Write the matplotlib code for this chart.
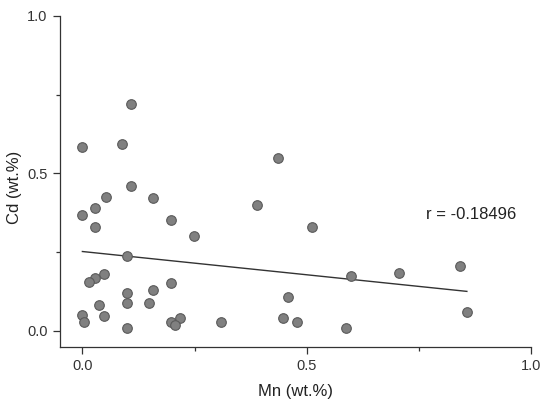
from __future__ import annotations

import matplotlib

matplotlib.use("Agg")
import matplotlib.pyplot as plt
import numpy as np
from matplotlib.ticker import MultipleLocator

plt.rcParams["font.family"] = ["Liberation Sans", "DejaVu Sans"]

# Mn / Cd contents (wt.%)
mn = [
    0.000, 0.089, 0.109, 0.109, 0.053, 0.158, 0.028, 0.000, 0.198, 0.028,
    0.248, 0.099, 0.048, 0.028, 0.014, 0.198, 0.158, 0.099, 0.099, 0.148,
    0.038, 0.000, 0.048, 0.003, 0.198, 0.218, 0.207, 0.099, 0.437, 0.389,
    0.512, 0.458, 0.308, 0.448, 0.478, 0.599, 0.706, 0.841, 0.857, 0.588,
]
cd = [
    0.583, 0.592, 0.720, 0.460, 0.426, 0.421, 0.391, 0.368, 0.352, 0.331,
    0.301, 0.239, 0.181, 0.169, 0.156, 0.151, 0.130, 0.120, 0.090, 0.090,
    0.082, 0.051, 0.049, 0.030, 0.030, 0.040, 0.019, 0.010, 0.550, 0.400,
    0.331, 0.109, 0.030, 0.040, 0.030, 0.174, 0.185, 0.206, 0.059, 0.010,
]
r_label = "r = -0.18496"


def main() -> None:
    x = np.array(mn)
    y = np.array(cd)
    slope, intercept = np.polyfit(x, y, 1)

    fig = plt.figure(figsize=(5.5, 4.07), dpi=100)
    ax = fig.add_axes((0.109, 0.148, 0.8565, 0.8134))

    ax.scatter(x, y, s=48, color="#808080", edgecolors="#5a5a5a", linewidths=0.8, zorder=3)
    fx = np.array([x.min(), x.max()])
    ax.plot(fx, intercept + slope * fx, color="#333333", linewidth=1.0, zorder=2)

    ax.text(0.766, 0.368, r_label, fontsize=12, color="#222222", ha="left", va="center")

    ax.set_xlim(-0.05, 1.0)
    ax.set_ylim(-0.05, 1.0)
    ax.xaxis.set_major_locator(MultipleLocator(0.5))
    ax.yaxis.set_major_locator(MultipleLocator(0.5))
    ax.xaxis.set_minor_locator(MultipleLocator(0.25))
    ax.yaxis.set_minor_locator(MultipleLocator(0.25))
    ax.tick_params(which="major", direction="out", length=5, width=0.9, color="#333333",
                   labelsize=10.5, labelcolor="#333333", pad=4)
    ax.tick_params(which="minor", direction="out", length=3, width=0.9, color="#333333")

    for side in ("top", "right"):
        ax.spines[side].set_visible(False)
    for side in ("left", "bottom"):
        ax.spines[side].set_color("#333333")
        ax.spines[side].set_linewidth(0.9)

    ax.set_xlabel("Mn (wt.%)", fontsize=12, color="#222222", labelpad=8)
    ax.set_ylabel("Cd (wt.%)", fontsize=12, color="#222222", labelpad=2)
    ax.yaxis.set_label_coords(-0.08, 0.48)

    fig.savefig("out.png", dpi=100, facecolor="white")
    plt.close(fig)


if __name__ == "__main__":
    main()
